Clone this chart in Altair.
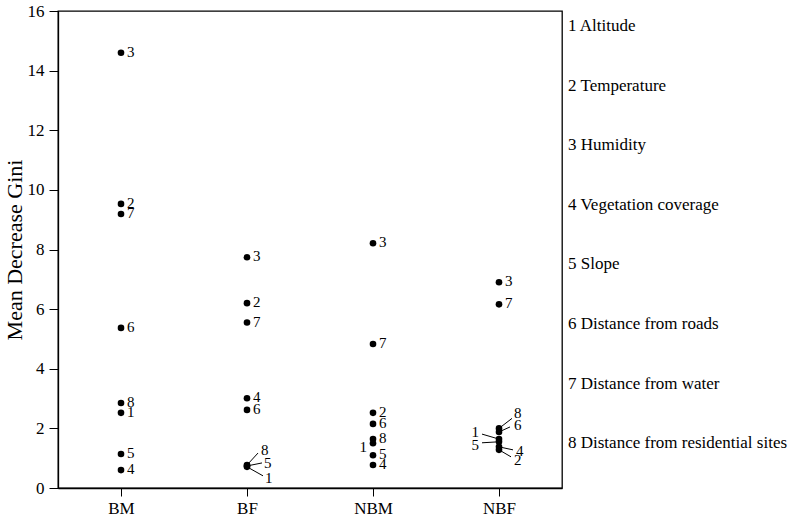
import altair as alt
import pandas as pd

# Groups along the x axis and the eight predictor variables
groups = ["BM", "BF", "NBM", "NBF"]
var_ids = [1, 2, 3, 4, 5, 6, 7, 8]
var_names = [
    "Altitude",
    "Temperature",
    "Humidity",
    "Vegetation coverage",
    "Slope",
    "Distance from roads",
    "Distance from water",
    "Distance from residential sites",
]

# Mean Decrease Gini per variable (ordered 1..8) for each group
gini_bm = [2.52, 9.53, 14.6, 0.60, 1.14, 5.37, 9.19, 2.85]
gini_bf = [0.71, 6.20, 7.74, 3.01, 0.74, 2.62, 5.55, 0.77]
gini_nbm = [1.50, 2.52, 8.21, 0.77, 1.10, 2.15, 4.83, 1.64]
gini_nbf = [1.64, 1.28, 6.90, 1.38, 1.55, 1.88, 6.16, 2.00]
gini = [gini_bm, gini_bf, gini_nbm, gini_nbf]

# Plot geometry
W, H = 504, 477
Y_MAX = 16
PX_X = W / len(groups)      # pixels per group unit
PX_Y = H / Y_MAX            # pixels per Gini unit
FONT = "Liberation Serif"

# Label placement in pixels: (dx, dy, align, leader_dx, leader_dy)
DEFAULT_LABEL = (6, -1, "left", None, None)
label_style = {
    ("BF", 8): (14, -15, "left", 11, -12),
    ("BF", 5): (17, -3, "left", 15, -3),
    ("BF", 1): (18, 11, "left", 16, 9),
    ("NBM", 1): (-6, 4, "right", None, None),
    ("NBF", 8): (15, -15, "left", 13, -10),
    ("NBF", 6): (15, -7, "left", 11, -5),
    ("NBF", 1): (-20, -7, "right", -17, -5),
    ("NBF", 5): (-20, 3, "right", -17, 1),
    ("NBF", 4): (17, 4, "left", 14, 3),
    ("NBF", 2): (15, 10, "left", 12, 7),
}

rows = []
for gi, g in enumerate(groups):
    for vid, val in zip(var_ids, gini[gi]):
        dx, dy, align, ldx, ldy = label_style.get((g, vid), DEFAULT_LABEL)
        rows.append(
            {
                "gx": gi + 1,
                "group": g,
                "var": vid,
                "label": str(vid),
                "gini": val,
                "dx": dx,
                "dy": dy,
                "align": align,
                "ldx": ldx if ldx is not None else 0,
                "ldy": ldy if ldy is not None else 0,
                "leader": ldx is not None,
            }
        )
df = pd.DataFrame(rows)

legend_df = pd.DataFrame(
    {"var": var_ids, "text": [f"{i} {n}" for i, n in zip(var_ids, var_names)]}
)

group_expr = "[" + ",".join(f"'{g}'" for g in groups) + "][datum.value - 1]"

x_scale = alt.Scale(domain=[0.5, len(groups) + 0.5], nice=False, zero=False)
y_scale = alt.Scale(domain=[0, Y_MAX], nice=False)

x_axis = alt.Axis(
    values=[1, 2, 3, 4],
    labelExpr=group_expr,
    title=None,
    grid=False,
    tickSize=8,
    tickColor="black",
    domainColor="black",
    domainWidth=1.3,
    labelFont=FONT,
    labelFontSize=17,
    labelColor="black",
    labelPadding=4,
)
y_axis = alt.Axis(
    values=list(range(0, Y_MAX + 1)),
    labelExpr="datum.value % 2 === 0 ? datum.label : ''",
    tickSize={"condition": {"test": "datum.value % 2 !== 0", "value": 5}, "value": 9},
    title="Mean Decrease Gini",
    grid=False,
    tickColor="black",
    domainColor="black",
    domainWidth=1.3,
    labelFont=FONT,
    labelFontSize=17,
    labelColor="black",
    labelPadding=5,
    titleFont=FONT,
    titleFontSize=22,
    titleFontWeight="normal",
    titleColor="black",
    titlePadding=1,
)

base = alt.Chart(df)

points = base.mark_circle(size=44, color="black", opacity=1).encode(
    x=alt.X("gx:Q", scale=x_scale, axis=x_axis),
    y=alt.Y("gini:Q", scale=y_scale, axis=y_axis),
)

positioned = base.transform_calculate(
    lx=f"datum.gx + datum.dx / {PX_X}",
    ly=f"datum.gini - datum.dy / {PX_Y}",
)

labels_left = positioned.transform_filter("datum.align === 'left'").mark_text(
    align="left", baseline="middle", font=FONT, fontSize=15, color="black"
).encode(
    x=alt.X("lx:Q", scale=x_scale),
    y=alt.Y("ly:Q", scale=y_scale),
    text="label:N",
)

labels_right = positioned.transform_filter("datum.align === 'right'").mark_text(
    align="right", baseline="middle", font=FONT, fontSize=15, color="black"
).encode(
    x=alt.X("lx:Q", scale=x_scale),
    y=alt.Y("ly:Q", scale=y_scale),
    text="label:N",
)

leaders = base.transform_filter("datum.leader").transform_calculate(
    x2=f"datum.gx + datum.ldx / {PX_X}",
    y2=f"datum.gini - datum.ldy / {PX_Y}",
).mark_rule(color="black", strokeWidth=1).encode(
    x=alt.X("gx:Q", scale=x_scale),
    y=alt.Y("gini:Q", scale=y_scale),
    x2="x2:Q",
    y2="y2:Q",
)

legend = alt.Chart(legend_df).transform_calculate(
    ly="17.5 - 2 * datum.var"
).mark_text(
    align="left", baseline="middle", font=FONT, fontSize=17, color="black"
).encode(
    x=alt.value(W + 6),
    y=alt.Y("ly:Q", scale=y_scale),
    text="text:N",
)

chart = (
    alt.layer(leaders, points, labels_left, labels_right, legend)
    .properties(
        width=W,
        height=H,
        autosize=alt.AutoSizeParams(type="none"),
        padding={"left": 58, "top": 11, "right": 799 - 58 - W, "bottom": 522 - 11 - H},
        background="white",
    )
    .configure_view(stroke="black", strokeWidth=1.3)
)

chart.save("out.html", embed_options={"renderer": "svg", "actions": False})
